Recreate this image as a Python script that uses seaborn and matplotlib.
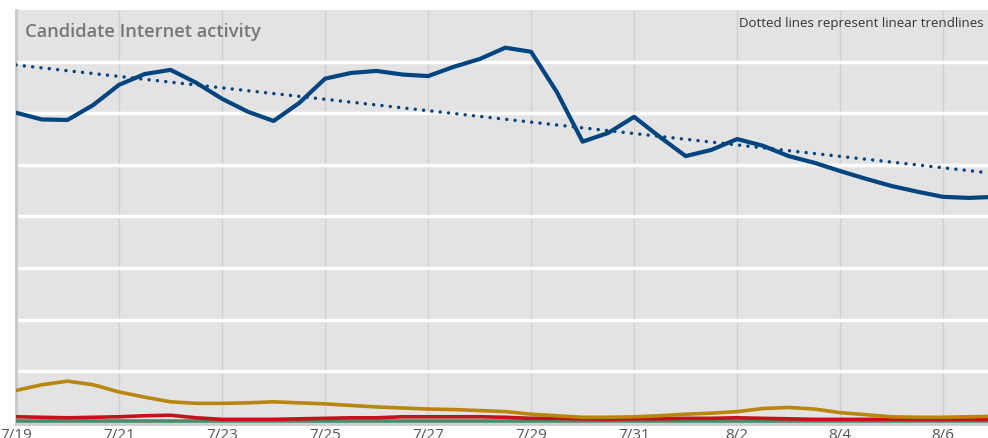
import numpy as np
import pandas as pd
import seaborn as sns
import matplotlib.pyplot as plt
import matplotlib.dates as mdates

# values every half day, starting 7/19 00:00
dates = pd.date_range("2016-07-19", periods=39, freq="12h")

blue_vals = [6.01, 5.88, 5.87, 6.16, 6.55, 6.76, 6.84, 6.59, 6.28, 6.03,
             5.85, 6.20, 6.67, 6.78, 6.82, 6.75, 6.72, 6.90, 7.05, 7.27,
             7.19, 6.41, 5.45, 5.62, 5.93, 5.54, 5.17, 5.29, 5.50, 5.37,
             5.17, 5.04, 4.88, 4.73, 4.59, 4.48, 4.38, 4.36, 4.38]
gold_vals = [0.63, 0.74, 0.81, 0.74, 0.60, 0.50, 0.41, 0.38, 0.38, 0.39,
             0.41, 0.39, 0.37, 0.34, 0.31, 0.29, 0.27, 0.26, 0.24, 0.22,
             0.17, 0.14, 0.11, 0.11, 0.12, 0.14, 0.17, 0.19, 0.22, 0.28,
             0.30, 0.27, 0.20, 0.16, 0.12, 0.11, 0.11, 0.12, 0.13]
red_vals = [0.12, 0.11, 0.10, 0.11, 0.12, 0.14, 0.15, 0.10, 0.07, 0.07,
            0.07, 0.08, 0.09, 0.10, 0.10, 0.12, 0.12, 0.12, 0.12, 0.11,
            0.09, 0.09, 0.08, 0.07, 0.08, 0.08, 0.09, 0.09, 0.10, 0.09,
            0.08, 0.07, 0.07, 0.07, 0.07, 0.07, 0.07, 0.07, 0.07]
green_vals = [0.03] * 39

series_names = ["green", "red", "gold", "blue"]
series_colors = {"blue": "#00457f", "gold": "#b8860b", "red": "#c8101a", "green": "#4b8a6d"}
series_widths = {"blue": 3.0, "gold": 2.6, "red": 2.6, "green": 2.6}

df = pd.DataFrame({"date": dates, "blue": blue_vals, "gold": gold_vals,
                   "red": red_vals, "green": green_vals})
long_df = df.melt(id_vars="date", var_name="series", value_name="value")

sns.set_style("white", {"axes.facecolor": "#e3e3e3"})
plt.rcParams['font.family'] = ['Open Sans', 'DejaVu Sans']

fig = plt.figure(figsize=(9.88, 4.38), dpi=100)
ax = fig.add_axes([16 / 988, 14 / 438, 972 / 988, 414 / 438])

for name in series_names:
    sns.lineplot(data=long_df[long_df["series"] == name], x="date", y="value",
                 color=series_colors[name], linewidth=series_widths[name],
                 ax=ax, legend=False, zorder=3)

# linear trendline for the blue series
xnum = mdates.date2num(df["date"])
slope, icpt = np.polyfit(xnum, df["blue"], 1)
trend_x = [xnum[0], xnum[-1]]
ax.plot(mdates.num2date(trend_x), [slope * t + icpt for t in trend_x],
        color=series_colors["blue"], linewidth=2.5, linestyle=(0, (0.01, 2.4)),
        dash_capstyle="round", zorder=3)

ax.set_xlim(pd.Timestamp("2016-07-19"), pd.Timestamp("2016-07-19") + pd.Timedelta(days=18.87))
ax.set_ylim(-0.02, 8.0)

ticks = pd.date_range("2016-07-19", "2016-08-06", freq="2D")
ax.set_xticks(ticks)
ax.set_xticklabels([f"{d.month}/{d.day}" for d in ticks], fontsize=11, color="#555555")
ax.set_yticks(range(1, 8))
ax.set_yticklabels([])
ax.tick_params(axis="both", length=0, pad=3)
ax.set_xlabel("")
ax.set_ylabel("")

ax.set_axisbelow(True)
ax.yaxis.grid(True, color="white", linewidth=2.5)
ax.xaxis.grid(True, color="#cfcfcf", linewidth=1)

for side in ["top", "right"]:
    ax.spines[side].set_visible(False)
ax.spines["left"].set_color("#c8c8c8")
ax.spines["left"].set_linewidth(2)
ax.spines["bottom"].set_color("#cccccc")
ax.spines["bottom"].set_linewidth(2)

ax.text(0.009, 0.968, "Candidate Internet activity", transform=ax.transAxes,
        fontsize=13.2, fontweight="semibold", color="#777777", va="top", ha="left")
ax.text(0.995, 0.982, "Dotted lines represent linear trendlines", transform=ax.transAxes,
        fontsize=9.5, color="#333333", va="top", ha="right")

plt.savefig("out.png", dpi=100)
